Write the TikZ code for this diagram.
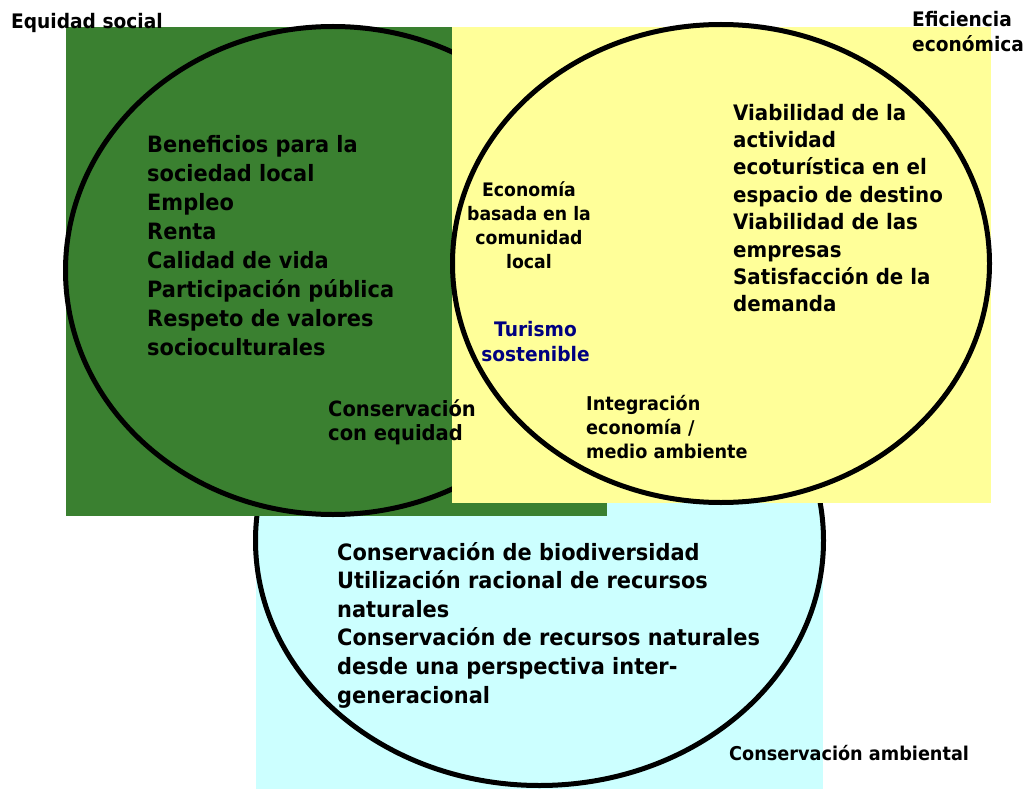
\documentclass[tikz,border=0pt]{standalone}
\usepackage{fontspec}
\setmainfont{DejaVu Sans}[FakeStretch=0.93]
\definecolor{greenbg}{RGB}{58,128,48}
\definecolor{yellowbg}{RGB}{255,255,153}
\definecolor{cyanbg}{RGB}{204,255,255}
\definecolor{navytxt}{RGB}{0,0,128}
\begin{document}
\begin{tikzpicture}[x=1pt,y=-1pt,
  ring/.style={draw=black,line width=5pt},
  txt/.style={inner sep=0pt,anchor=base west,align=left,text=black},
  ctxt/.style={inner sep=0pt,anchor=base,align=center,text=black},
]
\useasboundingbox (0,0) rectangle (1026,789);
% background panels and circles
\fill[cyanbg] (256,470) rectangle (823,789);
\draw[ring] (539.5,540.5) ellipse [x radius=284, y radius=245];
\fill[greenbg] (66,27) rectangle (607,516);
\draw[ring] (333,270.5) ellipse [x radius=267.5, y radius=244];
\fill[yellowbg] (452,27) rectangle (991,503);
\draw[ring] (721,263.5) ellipse [x radius=268.5, y radius=239];
% labels (anchored at the baseline of their last line)
\node[txt,font=\bfseries\fontsize{20}{25}\selectfont] (es) at (11,28.3) {Equidad social};
\node[txt,font=\bfseries\fontsize{20}{25}\selectfont] (ef) at (912,52) {Eficiencia\\económica};
\node[txt,font=\bfseries\fontsize{22.5}{29}\selectfont] (left) at (147,355.7)
  {Beneficios para la\\sociedad local\\Empleo\\Renta\\Calidad de vida\\Participación pública\\Respeto de valores\\socioculturales};
\node[txt,font=\bfseries\fontsize{21.3}{27.4}\selectfont] (right) at (733,311.8)
  {Viabilidad de la\\actividad\\ecoturística en el\\espacio de destino\\Viabilidad de las\\empresas\\Satisfacción de la\\demanda};
\node[ctxt,font=\bfseries\fontsize{18.6}{24}\selectfont] (eco) at (529,268.7)
  {Economía\\basada en la\\comunidad\\local};
\node[ctxt,text=navytxt,font=\bfseries\fontsize{20}{25.5}\selectfont] (ts) at (535.5,361.5)
  {Turismo\\sostenible};
\node[txt,font=\bfseries\fontsize{21}{24.5}\selectfont] (ce) at (328,440.5)
  {Conservación\\con equidad};
\node[txt,font=\bfseries\fontsize{19}{24}\selectfont] (int) at (586,458)
  {Integración\\economía /\\medio ambiente};
\node[txt,font=\bfseries\fontsize{22.5}{28.6}\selectfont] (bot) at (337,703)
  {Conservación de biodiversidad\\Utilización racional de recursos\\naturales\\Conservación de recursos naturales\\desde una perspectiva inter-\\generacional};
\node[txt,font=\bfseries\fontsize{19}{24}\selectfont] (ca) at (729,760) {Conservación ambiental};
\end{tikzpicture}
\end{document}
